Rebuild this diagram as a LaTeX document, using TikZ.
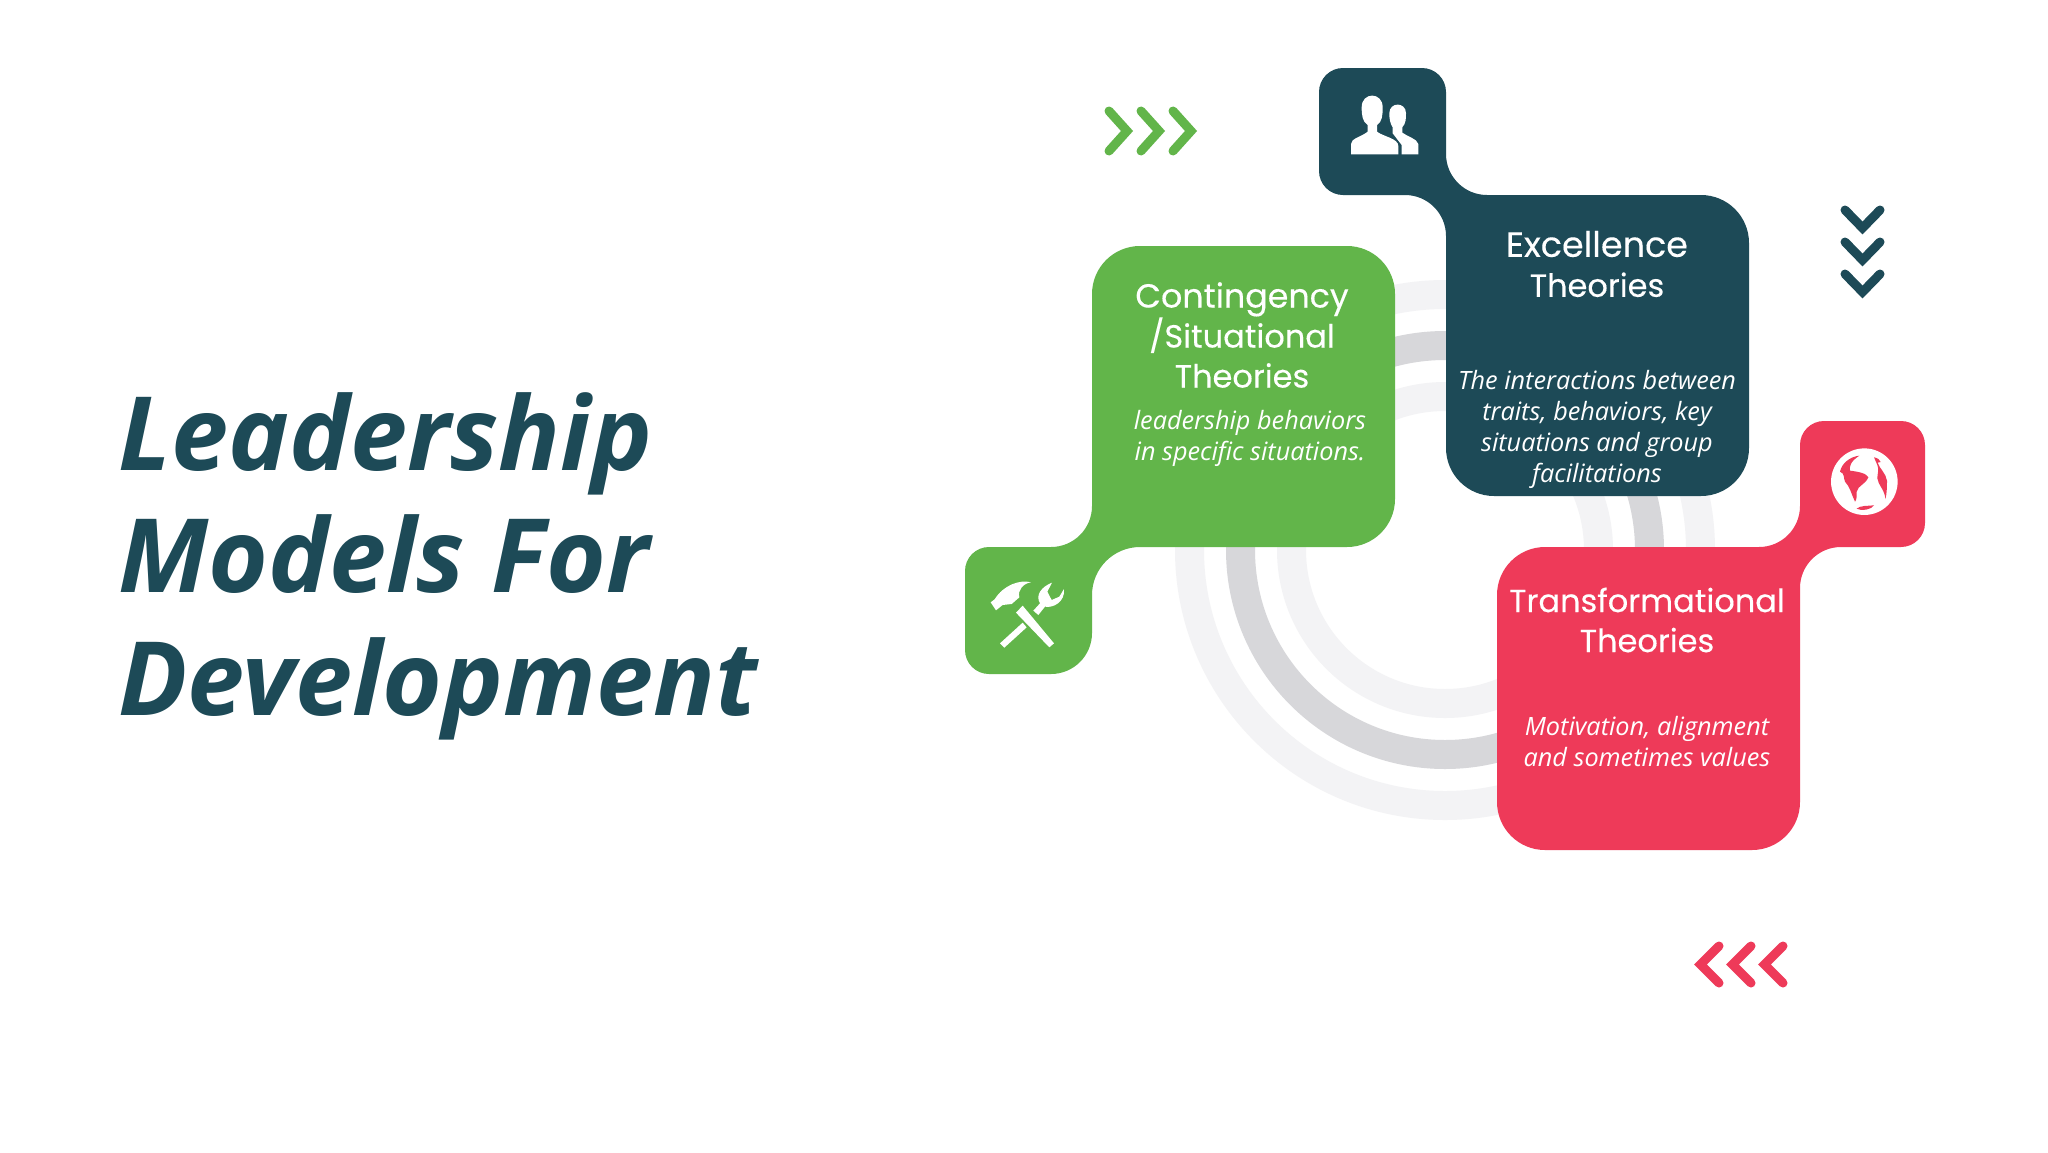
\documentclass[tikz,border=0pt]{standalone}
\usepackage{fontspec}
\setmainfont{Open Sans}
\newfontfamily\headfont[FakeBold=0.25]{Poppins}
\definecolor{leafgreen}{HTML}{62B54A}
\definecolor{deepteal}{HTML}{1D4A57}
\definecolor{signalred}{HTML}{EE3A59}
\definecolor{ringpale}{HTML}{F3F3F5}
\definecolor{ringgray}{HTML}{D7D7DA}

\begin{document}
\begin{tikzpicture}
	[x=1pt,y=-1pt,
	 heading/.style={white,align=center,inner sep=0pt,font=\headfont\fontsize{32}{40}\selectfont},
	 blurb/.style={white,align=center,inner sep=0pt,font=\itshape\fontsize{25.25}{31}\selectfont},
	 title/.style={deepteal,align=left,inner sep=0pt,anchor=west,font=\bfseries\itshape\fontsize{102.5}{122.5}\selectfont},
	 ring/.style={line width=29pt},
	 chevron/.style={line width=9pt,line cap=round,miter limit=10},
	 icon/.style={fill=white}]

\useasboundingbox (0,0) rectangle (2048,1152);
\fill[white] (0,0) rectangle (2048,1152);

\draw[ring,ringpale] (1445,550) circle (255.5pt);
\draw[ring,ringgray] (1445,550) circle (204.5pt);
\draw[ring,ringpale] (1445,550) circle (153.5pt);

\fill[leafgreen] (1240,246) [rounded corners=48pt] -- (1395,246) -- (1395,547) -- (1092,547)
  [rounded corners=41pt] -- (1092,674) [rounded corners=24pt] -- (965,674) -- (965,547)
  [rounded corners=41pt] -- (1092,547) [rounded corners=48pt] -- (1092,246) -- cycle;
\fill[deepteal] (1383,68) [rounded corners=24pt] -- (1446,68)
  [rounded corners=41pt] -- (1446,195) [rounded corners=48pt] -- (1749,195) -- (1749,496) -- (1446,496)
  [rounded corners=41pt] -- (1446,195) [rounded corners=24pt] -- (1319,195) -- (1319,68) -- cycle;
\fill[signalred] (1650,547) [rounded corners=41pt] -- (1800,547) [rounded corners=24pt] -- (1800,421)
  -- (1925,421) -- (1925,547) [rounded corners=41pt] -- (1800,547)
  [rounded corners=48pt] -- (1800,850) -- (1497,850) -- (1497,547) -- cycle;

\node [title] (leadership) at (118,566) {Leadership\\Models For\\Development};

\node [heading] (contingency) at (1242,335) {{\fontsize{33.3}{40}\selectfont Contingency}\\/Situational\\Theories};
\node [blurb] (contingencytext) at (1250,438.5) {leadership behaviors\\in specific situations.};
\node [heading] (excellence) at (1597,264) {{\fontsize{35}{40}\selectfont Excellence}\\Theories};
\node [blurb] (excellencetext) at (1597,429.5) {The interactions between\\traits, behaviors, key\\situations and group\\facilitations};
\node [heading] (transform) at (1647,620) {Transformational\\Theories};
\node [blurb] (transformtext) at (1647,742) {Motivation, alignment\\and sometimes values};

\draw[chevron,leafgreen] (1109,111) -- (1127,131) -- (1109,151);
\draw[chevron,leafgreen] (1141,111) -- (1159,131) -- (1141,151);
\draw[chevron,leafgreen] (1173,111) -- (1191,131) -- (1173,151);

\draw[chevron,deepteal] (1845,210) -- (1862.5,228) -- (1880,210);
\draw[chevron,deepteal] (1845,242) -- (1862.5,260) -- (1880,242);
\draw[chevron,deepteal] (1845,274) -- (1862.5,292) -- (1880,274);

\draw[chevron,signalred] (1719,946) -- (1700.5,964.5) -- (1719,983);
\draw[chevron,signalred] (1751,946) -- (1732.5,964.5) -- (1751,983);
\draw[chevron,signalred] (1783,946) -- (1764.5,964.5) -- (1783,983);

\begin{scope}[shift={(960,540)},x=0.3333pt,y=-0.3333pt]
  \fill[icon] (120,310) -- (188,248) -- (200,262) -- (133,323) -- cycle;
  \fill[icon] (220,212) -- (240,190) .. controls (225,165) and (245,140) .. (276,128)
    -- (262,155) -- (275,180) -- (298,170) -- (312,147) .. controls (316,185) and (280,205) .. (255,200)
    -- (235,225) -- cycle;
  \fill[icon] (168,218) -- (188,197) -- (282,310) -- (268,322) -- cycle;
  \fill[icon] (92,187) -- (104,178) .. controls (130,135) and (180,118) .. (213,127)
    .. controls (190,130) and (172,150) .. (178,172) -- (155,192) -- (128,195) -- (108,211) -- cycle;
\end{scope}

\begin{scope}[shift={(1320,70)},x=0.3333pt,y=-0.3333pt]
  \fill[icon] (245,253) -- (295,253) -- (295,222) .. controls (290,205) and (262,200) .. (247,188)
    -- (247,172) .. controls (258,160) and (258,145) .. (258,130) .. controls (258,95) and (208,95) .. (208,130)
    .. controls (208,145) and (210,160) .. (218,172) -- (218,190) -- (245,225) -- cycle;
  \draw[icon,draw=deepteal,line width=3pt] (93,253) -- (93,222) .. controls (93,205) and (125,200) .. (143,185)
    -- (143,165) .. controls (127,155) and (125,135) .. (125,112) .. controls (125,65) and (188,65) .. (188,112)
    .. controls (188,135) and (187,155) .. (171,165) -- (171,185) .. controls (190,200) and (235,205) .. (235,228)
    -- (235,253) -- cycle;
  \fill[icon] (93,253) -- (93,222) .. controls (93,205) and (125,200) .. (143,185)
    -- (143,165) .. controls (127,155) and (125,135) .. (125,112) .. controls (125,65) and (188,65) .. (188,112)
    .. controls (188,135) and (187,155) .. (171,165) -- (171,185) .. controls (190,200) and (235,205) .. (235,228)
    -- (235,253) -- cycle;
\end{scope}

\begin{scope}[shift={(1800,420)},x=0.3333pt,y=-0.3333pt]
  \fill[icon] (193,185) circle (33.3pt);
  \fill[signalred] (120,155) .. controls (125,130) and (150,110) .. (178,107)
    .. controls (150,125) and (148,140) .. (150,152) .. controls (175,155) and (200,160) .. (205,172)
    .. controls (195,195) and (175,195) .. (170,215) .. controls (170,230) and (170,240) .. (165,245)
    .. controls (155,225) and (150,200) .. (135,185) .. controls (130,175) and (135,160) .. (120,155) -- cycle;
  \fill[signalred] (222,112) .. controls (232,114) and (240,118) .. (242,126) -- (233,128)
    .. controls (238,145) and (258,160) .. (261,182) .. controls (261,205) and (260,225) .. (256,237)
    .. controls (255,210) and (234,195) .. (232,175) .. controls (232,160) and (238,150) .. (232,135) -- cycle;
  \fill[signalred] (170,266) .. controls (180,256) and (205,258) .. (222,256)
    .. controls (215,268) and (185,275) .. (170,266) -- cycle;
\end{scope}

\end{tikzpicture}
\end{document}
